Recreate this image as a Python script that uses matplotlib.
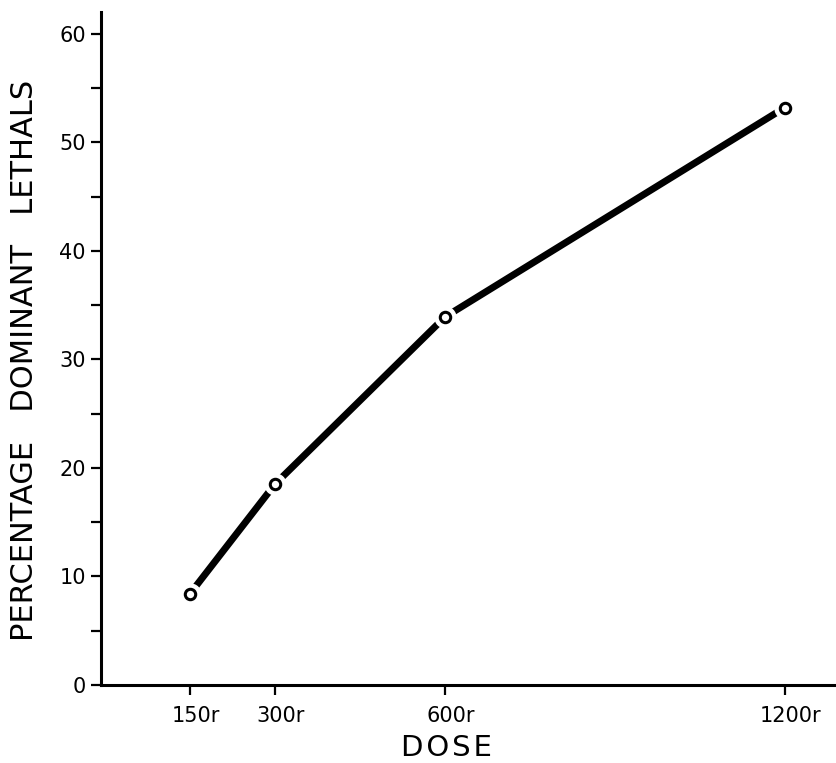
import matplotlib
matplotlib.use("Agg")
import matplotlib.pyplot as plt
import matplotlib.transforms as mtransforms

# dose (r) and percentage dominant lethals
doses = [150, 300, 600, 1200]
lethals = [8.4, 18.5, 33.9, 53.2]
dose_labels = ["150r", "300r", "600r", "1200r"]
y_major = [0, 10, 20, 30, 40, 50, 60]
y_minor = [5, 15, 25, 35, 45, 55]

plt.rcParams["font.family"] = ["DejaVu Sans"]

fig = plt.figure(figsize=(8.37, 7.63), dpi=100)
ax = fig.add_axes([101 / 837, 78 / 763, 736 / 837, 673 / 763])

# thick curve, with white halos so the line stops short of each point
ax.plot(doses, lethals, color="black", lw=5, solid_capstyle="round", zorder=2)
ax.plot(doses, lethals, ls="none", marker="o", ms=15, mfc="white", mec="white", zorder=3)
ax.plot(doses, lethals, ls="none", marker="o", ms=7.5, mfc="white", mec="black", mew=2.2, zorder=4)

ax.set_xlim(-7, 1292)
ax.set_ylim(0, 62)

for side in ("top", "right"):
    ax.spines[side].set_visible(False)
ax.spines["left"].set_linewidth(2.2)
ax.spines["bottom"].set_linewidth(2.2)

ax.set_xticks(doses)
ax.set_xticklabels(dose_labels)
ax.set_yticks(y_major)
ax.set_yticks(y_minor, minor=True)
ax.tick_params(axis="y", which="major", length=7, width=1.6, labelsize=15, pad=4)
ax.tick_params(axis="y", which="minor", length=7, width=1.6)
ax.tick_params(axis="x", which="major", length=7, width=1.6, labelsize=15, pad=8)

shift = mtransforms.ScaledTranslation(6 / 100, 0, fig.dpi_scale_trans)
for lab in ax.get_xticklabels():
    lab.set_transform(lab.get_transform() + shift)

ax.set_ylabel("PERCENTAGE   DOMINANT   LETHALS", fontsize=22, va="center")
ax.yaxis.set_label_coords((25 - 101) / 736, (685 - 360) / 673)
ax.set_xlabel("D\u200aO\u200aS\u200aE", fontsize=21, va="center")
ax.xaxis.set_label_coords((446 - 101) / 736, (685 - 748) / 673)

fig.savefig("out.png", dpi=100)
